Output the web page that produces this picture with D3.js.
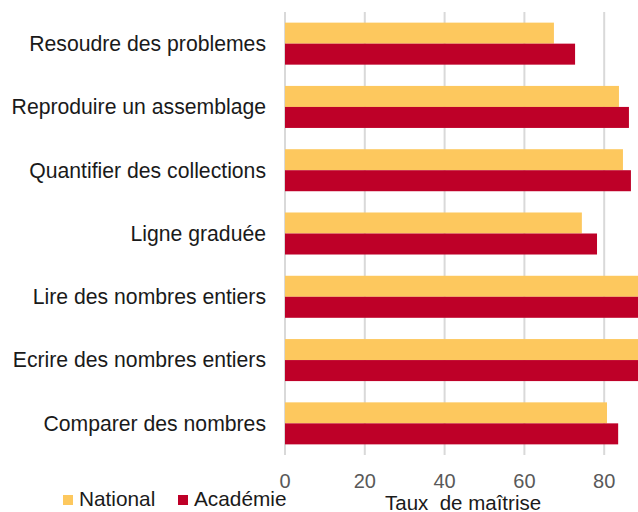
<!DOCTYPE html>
<html>
<head>
<meta charset="utf-8">
<script src="https://cdn.jsdelivr.net/npm/d3@7"></script>
<style>
  body { margin: 0; background: #fff; }
  svg { display: block; font-family: "Liberation Sans", Arial, sans-serif; }
</style>
</head>
<body>
<div id="chart"></div>
<script>
var categories = [
  "Resoudre des problemes",
  "Reproduire un assemblage",
  "Quantifier des collections",
  "Ligne graduée",
  "Lire des nombres entiers",
  "Ecrire des nombres entiers",
  "Comparer des nombres"
];
var series = ["National", "Académie"];
var national = [67.4, 83.7, 84.7, 74.4, 91, 92, 80.7];
var academie = [72.7, 86.2, 86.7, 78.2, 91.5, 92.5, 83.5];
var ticks = [0, 20, 40, 60, 80];
var colors = ["#FDC85E", "#BE0028"];

var svgWidth = 638, svgHeight = 512;
var plotLeft = 285, plotTop = 12, plotBottom = 455;

var svg = d3.select("#chart")
  .append("svg")
  .attr("width", svgWidth)
  .attr("height", svgHeight);

var x = d3.scaleLinear()
  .domain([0, 100])
  .range([plotLeft, plotLeft + 399]);

var y = d3.scaleBand()
  .domain(categories)
  .range([plotTop, plotBottom])
  .paddingInner(0.336)
  .paddingOuter(0.168);

var ySub = d3.scaleBand()
  .domain(series)
  .range([0, y.bandwidth()]);

// gridlines
svg.append("g")
  .selectAll("line")
  .data(ticks)
  .enter()
  .append("line")
  .attr("x1", d => x(d))
  .attr("x2", d => x(d))
  .attr("y1", plotTop)
  .attr("y2", plotBottom)
  .attr("stroke", "#D9D9D9")
  .attr("stroke-width", 2);

// bars
var rows = categories.map(function(c, i) {
  return { cat: c, values: [national[i], academie[i]] };
});

var groups = svg.selectAll(".row")
  .data(rows)
  .enter()
  .append("g")
  .attr("class", "row")
  .attr("transform", d => "translate(0," + y(d.cat) + ")");

groups.selectAll("rect")
  .data(d => d.values.map((v, j) => ({ s: series[j], v: v, c: colors[j] })))
  .enter()
  .append("rect")
  .attr("x", x(0))
  .attr("y", d => ySub(d.s))
  .attr("width", d => x(d.v) - x(0))
  .attr("height", ySub.bandwidth())
  .attr("fill", d => d.c);

// category labels
svg.append("g")
  .selectAll("text")
  .data(categories)
  .enter()
  .append("text")
  .attr("x", plotLeft - 19)
  .attr("y", d => y(d) + y.bandwidth() / 2)
  .attr("dy", "0.35em")
  .attr("text-anchor", "end")
  .attr("font-size", 21.2)
  .attr("fill", "#1a1a1a")
  .text(d => d);

// tick labels
svg.append("g")
  .selectAll("text")
  .data(ticks)
  .enter()
  .append("text")
  .attr("x", d => x(d))
  .attr("y", 488)
  .attr("text-anchor", "middle")
  .attr("font-size", 20)
  .attr("fill", "#595959")
  .text(d => d);

// axis title
svg.append("text")
  .attr("x", 385)
  .attr("y", 510)
  .attr("font-size", 20.5)
  .attr("fill", "#1a1a1a")
  .style("white-space", "pre")
  .text("Taux  de maîtrise");

// legend
var legendX = [63, 178];
var legend = svg.selectAll(".legend")
  .data(series)
  .enter()
  .append("g")
  .attr("class", "legend")
  .attr("transform", (d, i) => "translate(" + legendX[i] + ",495)");

legend.append("rect")
  .attr("width", 10)
  .attr("height", 10)
  .attr("fill", (d, i) => colors[i]);

legend.append("text")
  .attr("x", 16)
  .attr("y", 11)
  .attr("font-size", 20.8)
  .attr("fill", "#1a1a1a")
  .text(d => d);
</script>
</body>
</html>
